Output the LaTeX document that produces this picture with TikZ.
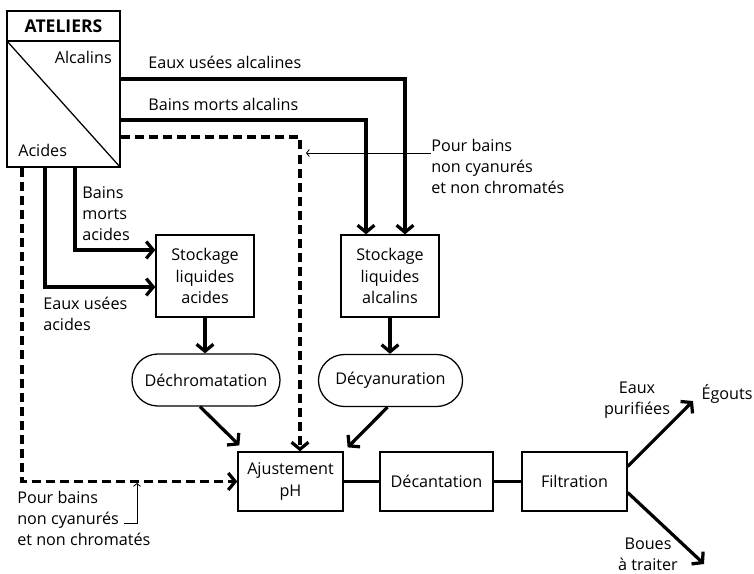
\documentclass[tikz,border=0pt]{standalone}
\usepackage{fontspec}
\setmainfont{Open Sans}
\usetikzlibrary{arrows.meta,calc,positioning}

\begin{document}
\begin{tikzpicture}[x=0.025cm,y=-0.025cm,
    font=\fontsize{11.5}{15}\selectfont,
    box/.style={draw,line width=0.9pt,align=center,inner sep=0pt},
    oval/.style={box,rounded corners=0.65cm},
    pipe/.style={line width=2.3pt},
    flow/.style={pipe,-{Straight Barb[length=5pt,width=12pt]}},
    dflow/.style={flow,dash pattern=on 6.4pt off 3.6pt},
    note/.style={line width=0.6pt,-{Straight Barb[length=2pt,width=5pt]}},
    lbl/.style={align=left,inner sep=0pt}]
    \useasboundingbox (0,0) rectangle (754,573);

    % Ateliers
    \node[box,minimum width=2.825cm,minimum height=0.75cm,font=\fontsize{12.5}{15}\selectfont\bfseries] (hdr) at (63.5,26) {ATELIERS};
    \node[box,minimum width=2.825cm,minimum height=3.15cm] (atel) at (63.5,104) {};
    \draw[line width=0.9pt] (atel.north west) -- (atel.south east);
    \node[lbl,anchor=east] (alc) at (112,57) {Alcalins};
    \node[lbl,anchor=west] (acid) at (18,150) {Acides};

    % Stockage
    \node[box,minimum width=2.45cm,minimum height=2.05cm] (stockA) at (205,276) {Stockage\\liquides\\acides};
    \node[box,minimum width=2.45cm,minimum height=2.05cm] (stockB) at (390,276) {Stockage\\liquides\\alcalins};

    % Traitements
    \node[oval,minimum width=3.7cm,minimum height=1.3cm] (dechrom) at (206,380) {Déchromatation};
    \node[oval,minimum width=3.6cm,minimum height=1.3cm] (decyan) at (390.5,380.5) {Décyanuration};
    \node[box,minimum width=2.625cm,minimum height=1.475cm] (ajust) at (290.5,481.5) {Ajustement\\pH};
    \node[box,minimum width=2.825cm,minimum height=1.475cm] (decant) at (436.5,481.5) {Décantation};
    \node[box,minimum width=2.625cm,minimum height=1.475cm] (filtr) at (574.5,481.5) {Filtration};

    % Labels
    \node[lbl,anchor=west] (lea) at (148,62) {Eaux usées alcalines};
    \node[lbl,anchor=west] (lba) at (148,104) {Bains morts alcalins};
    \node[lbl,anchor=north west] (lbm) at (82,186) {Bains\\morts\\acides};
    \node[lbl,anchor=north west] (lec) at (43,297) {Eaux usées\\acides};
    \node[lbl,anchor=north west] (note1) at (431,139) {Pour bains\\non cyanurés\\et non chromatés};
    \node[lbl,anchor=north west] (note2) at (17,491) {Pour bains\\non cyanurés\\et non chromatés};
    \node[lbl,align=center] (lpur) at (637,400) {Eaux\\purifiées};
    \node[lbl] (egt) at (727,394) {Égouts};
    \node[lbl,align=center] (lbou) at (648,554) {Boues\\à traiter};

    % Alcalins
    \draw[flow] (atel.east |- 0,79) -| (stockB.north -| 405,0);
    \draw[flow] (atel.east |- 0,120) -| (stockB.north -| 366,0);
    \draw[dflow] (atel.east |- 0,137) -| (ajust.north -| 300,0);

    % Acides
    \draw[flow] (atel.south -| 75,0) |- (stockA.west |- 0,250);
    \draw[flow] (atel.south -| 45,0) |- (stockA.west |- 0,287);
    \draw[dflow] (atel.south -| 22,0) |- (ajust.west);

    % Traitement
    \draw[flow] (stockA.south) -- (stockA.south |- dechrom.north);
    \draw[flow] (stockB.south) -- (stockB.south |- decyan.north);
    \draw[flow] ($(dechrom.south)+(-6,0)$) -- ($(ajust.north west)+(2,-6)$);
    \draw[flow] ($(decyan.south)+(-3,0)$) -- ($(ajust.north east)+(4,-4)$);
    \draw[pipe] (ajust) -- (decant);
    \draw[pipe] (decant) -- (filtr);

    % Sorties
    \coordinate (egout) at (693,401);
    \coordinate (boue) at (704,564);
    \draw[flow] ($(filtr.east)+(0,-15)$) -- (egout);
    \draw[flow] ($(filtr.east)+(0,11)$) -- (boue);

    % Notes
    \coordinate (n1) at (306,153);
    \draw[note] (note1.west |- n1) -- (n1);
    \coordinate (n2) at (137,483);
    \coordinate (n2a) at (124,523);
    \draw[note] (n2a) -| (n2);
\end{tikzpicture}
\end{document}
